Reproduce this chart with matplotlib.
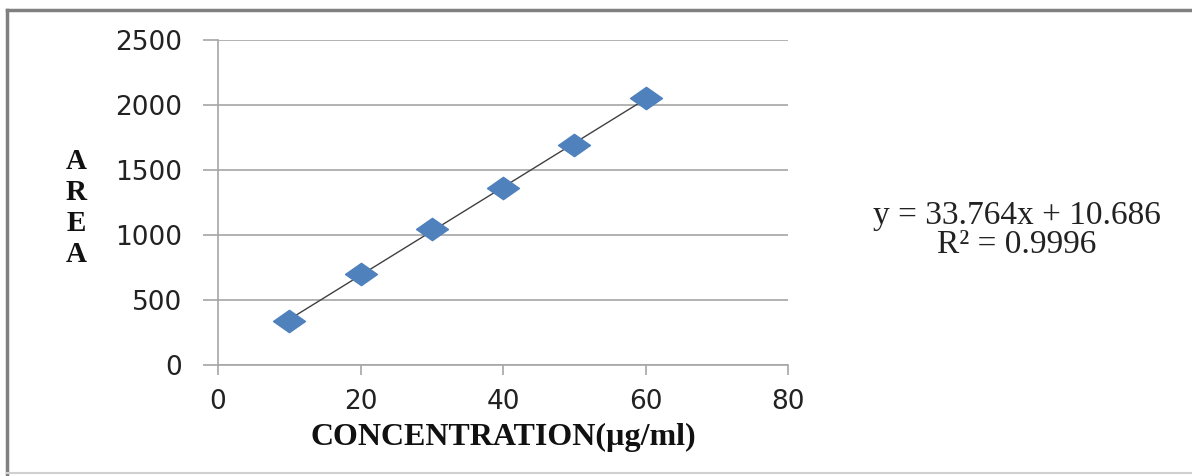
import numpy as np
import matplotlib.pyplot as plt
from matplotlib.path import Path
from matplotlib.lines import Line2D

# =========================
# DATA
# =========================
concentration = [10, 20, 30, 40, 50, 60]
area = [338, 700, 1046, 1361, 1692, 2052]
x_ticks = [0, 20, 40, 60, 80]
y_ticks = [0, 500, 1000, 1500, 2000, 2500]
equation_text = "y = 33.764x + 10.686\nR\u00b2 = 0.9996"

# =========================
# FIGURE
# =========================
fig = plt.figure(figsize=(11.92, 4.76), dpi=100)
ax = fig.add_axes([218 / 1192, 1 - 365 / 476, (788 - 218) / 1192, (365 - 40) / 476])

grid_col = "#a6a6a6"

# wide diamond marker (the picture is stretched sideways)
diamond = Path([(-1.5, 0), (0, 1.05), (1.5, 0), (0, -1.05), (-1.5, 0)],
               [Path.MOVETO, Path.LINETO, Path.LINETO, Path.LINETO, Path.CLOSEPOLY])

# linear trendline from the data
coef = np.polyfit(concentration, area, 1)
xs = np.array([min(concentration), max(concentration)])
ax.plot(xs, np.polyval(coef, xs), color="#404040", lw=1.0, zorder=2)
ax.plot(concentration, area, linestyle="none", marker=diamond, markersize=23,
        color="#4f81bd", markeredgecolor="#4f81bd", zorder=3)

ax.set_xlim(0, 80)
ax.set_ylim(0, 2500)
ax.set_xticks(x_ticks)
ax.set_yticks(y_ticks)
ax.yaxis.grid(True, color=grid_col, lw=1.2)
ax.set_axisbelow(True)

for s in ["top", "right"]:
    ax.spines[s].set_visible(False)
ax.spines["left"].set_color(grid_col)
ax.spines["bottom"].set_color(grid_col)
ax.spines["left"].set_linewidth(1.2)
ax.spines["bottom"].set_linewidth(1.2)

ax.tick_params(axis="y", length=11, width=1.2, color=grid_col, pad=15,
               labelsize=19, labelcolor="#222222")
ax.tick_params(axis="x", length=7, width=1.2, color=grid_col, pad=10,
               labelsize=19, labelcolor="#222222")

# axis labels
fig.text(503 / 1192, 1 - 437 / 476, "CONCENTRATION(\u00b5g/ml)",
         family="Liberation Serif", fontweight="bold", fontsize=23,
         ha="center", va="center", color="#111111")
fig.text(76 / 1192, 1 - 208 / 476, "A\nR\nE\nA",
         family="Liberation Serif", fontweight="bold", fontsize=21,
         ha="center", va="center", linespacing=1.2, color="#111111")

# trendline equation
fig.text(1017 / 1192, 1 - 230 / 476, equation_text,
         family="Liberation Serif", fontsize=24, ha="center", va="center",
         multialignment="center", linespacing=0.95, color="#222222")

# outer frame
fig.add_artist(Line2D([7 / 1192, 1], [1 - 10 / 476, 1 - 10 / 476],
                      transform=fig.transFigure, color="#808080", lw=2.5))
fig.add_artist(Line2D([7 / 1192, 7 / 1192], [1 - 10 / 476, 1 - 474 / 476],
                      transform=fig.transFigure, color="#808080", lw=2.5))
fig.add_artist(Line2D([7 / 1192, 1], [1 - 473 / 476, 1 - 473 / 476],
                      transform=fig.transFigure, color="#d0d0d0", lw=1.5))

fig.savefig("out.png", dpi=100)
